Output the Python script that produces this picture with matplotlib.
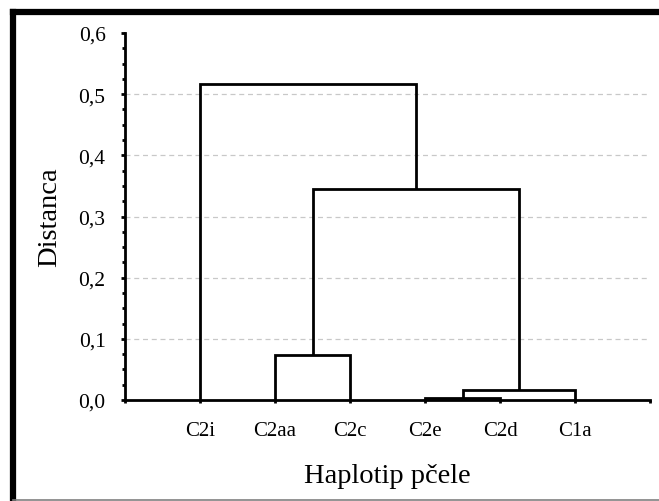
import matplotlib
matplotlib.use("Agg")
import matplotlib.pyplot as plt
from matplotlib.lines import Line2D
import numpy as np

# ---- data ----
leaves = ["C2i", "C2aa", "C2c", "C2e", "C2d", "C1a"]
# merges: (left member, right member, height); members are leaf names or merge indices "#k"
merge_left = ["C2e", "#0", "C2aa", "#2", "C2i"]
merge_right = ["C2d", "C1a", "C2c", "#1", "#3"]
merge_height = [0.004, 0.016, 0.074, 0.345, 0.516]
y_ticks = [0.0, 0.1, 0.2, 0.3, 0.4, 0.5, 0.6]
y_tick_labels = ["0,0", "0,1", "0,2", "0,3", "0,4", "0,5", "0,6"]
grid_levels = [0.1, 0.2, 0.3, 0.4, 0.5]

plt.rcParams["font.family"] = ["Liberation Serif", "DejaVu Serif"]

W, H = 659, 502
fig = plt.figure(figsize=(W / 100, H / 100), dpi=100)
ax = fig.add_axes([125 / W, 1 - 401 / H, (650 - 125) / W, (401 - 34) / H])

leaf_x = {name: i + 1 for i, name in enumerate(leaves)}
pos = {}
height = {}
for name in leaves:
    pos[name] = leaf_x[name]
    height[name] = 0.0

lw = 2.0
for k, (a, b, h) in enumerate(zip(merge_left, merge_right, merge_height)):
    xa, xb = pos[a], pos[b]
    ya, yb = height[a], height[b]
    ax.plot([xa, xa, xb, xb], [ya, h, h, yb], color="black", lw=lw,
            solid_joinstyle="miter", solid_capstyle="butt", zorder=3)
    pos["#%d" % k] = (xa + xb) / 2
    height["#%d" % k] = h

ax.hlines(grid_levels, 0, 7, colors="#c8c8c8", linestyles=(0, (4, 3)), lw=0.9, zorder=1)

ax.set_xlim(0, 7)
ax.set_ylim(0, 0.6)
ax.set_xticks(range(0, 8))
ax.set_xticklabels([""] + leaves + [""], fontsize=15)
ax.set_yticks(y_ticks)
ax.set_yticklabels(y_tick_labels, fontsize=15.5)
ax.set_yticks(np.arange(0, 0.6001, 0.025), minor=True)

for side in ["top", "right"]:
    ax.spines[side].set_visible(False)
for side in ["left", "bottom"]:
    ax.spines[side].set_linewidth(2.0)
    ax.spines[side].set_zorder(4)

ax.tick_params(axis="y", which="major", direction="out", length=3, width=2, pad=11)
ax.tick_params(axis="y", which="minor", direction="out", length=2, width=2)
ax.tick_params(axis="x", which="major", direction="out", length=2, width=2, pad=13)

ax.set_ylabel("Distanca", fontsize=20.5, labelpad=12)
ax.set_xlabel("Haplotip pčele", fontsize=20.5, labelpad=17)

# figure frame (black thick on left/top, thin gray at bottom)
fig.add_artist(Line2D([13 / W, 13 / W], [0, 1 - 12.5 / H], transform=fig.transFigure,
                      color="black", lw=4.5, solid_capstyle="projecting"))
fig.add_artist(Line2D([13 / W, 1], [1 - 12.5 / H, 1 - 12.5 / H], transform=fig.transFigure,
                      color="black", lw=4.5, solid_capstyle="projecting"))
fig.add_artist(Line2D([13 / W, 1], [1 - 501 / H, 1 - 501 / H], transform=fig.transFigure,
                      color="#808080", lw=1.2))

fig.savefig("out.png", dpi=100)
